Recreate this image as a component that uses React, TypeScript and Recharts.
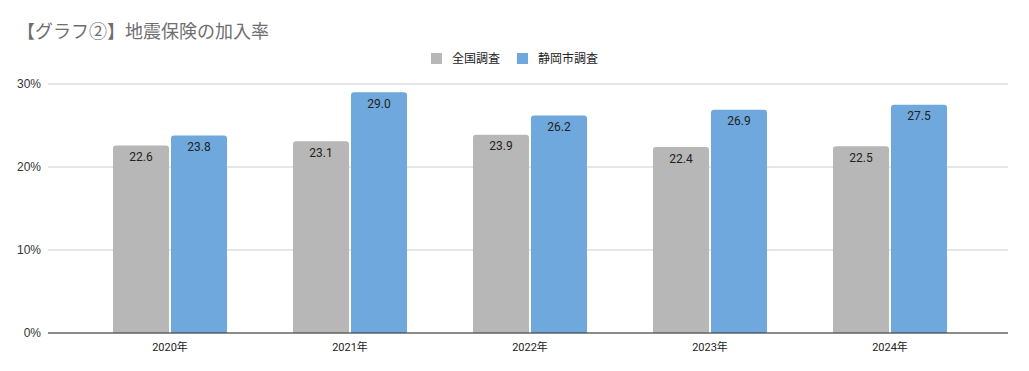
import React from "react";
import { BarChart, Bar, XAxis, YAxis, CartesianGrid, LabelList } from "recharts";

const categories = ["2020年", "2021年", "2022年", "2023年", "2024年"];
const nationalValues = [22.6, 23.1, 23.9, 22.4, 22.5];
const shizuokaValues = [23.8, 29.0, 26.2, 26.9, 27.5];
const yTicks = [0, 10, 20, 30];
const seriesNames = ["全国調査", "静岡市調査"];
const seriesColors = ["#b7b7b7", "#6fa8dc"];

const data = categories.map((c, i) => ({
  name: c,
  national: nationalValues[i],
  shizuoka: shizuokaValues[i],
}));

const font = "Roboto, 'Noto Sans CJK JP', sans-serif";

export default function App() {
  return (
    <div style={{ position: "absolute", left: 0, top: 0, width: 1029, height: 371, background: "#fff", fontFamily: font }}>
      <div style={{ position: "absolute", left: 17, top: 17, fontSize: 18, color: "#6e6e6e", fontFamily: "'Noto Sans CJK JP', sans-serif", lineHeight: "26px" }}>
        【グラフ②】地震保険の加入率
      </div>
      <div style={{ position: "absolute", left: 0, width: 1029, top: 50, display: "flex", justifyContent: "center", fontSize: 12, color: "#222", lineHeight: "16px" }}>
        {seriesNames.map((n, i) => (
          <div key={n} style={{ display: "flex", alignItems: "center", marginLeft: i === 0 ? 0 : 17 }}>
            <span style={{ display: "inline-block", width: 11, height: 11, background: seriesColors[i], marginRight: 10 }} />
            <span style={{ fontFamily: "'Noto Sans CJK JP', sans-serif" }}>{n}</span>
          </div>
        ))}
      </div>
      <div style={{ position: "absolute", left: 0, top: 0 }}>
        <BarChart width={1029} height={371} data={data} margin={{ top: 84, right: 21, bottom: 8, left: 0 }} barGap={2} barSize={56}>
          <CartesianGrid vertical={false} stroke="#cccccc" />
          <XAxis
            dataKey="name"
            padding={{ left: 32, right: 28 }}
            tickLine={false}
            axisLine={{ stroke: "#333333" }}
            tick={{ fontSize: 11, fill: "#222", fontFamily: font }}
            height={30}
            tickMargin={4}
            interval={0}
          />
          <YAxis
            domain={[0, 30]}
            ticks={yTicks}
            tickFormatter={(v: number) => `${v}%`}
            width={48}
            tickLine={false}
            axisLine={false}
            tick={{ fontSize: 12, fill: "#333", fontFamily: "'Liberation Sans', Arial, sans-serif" }}
            tickMargin={1}
          />
          <Bar dataKey="national" fill={seriesColors[0]} radius={[3, 3, 0, 0]} isAnimationActive={false}>
            <LabelList dataKey="national" position="insideTop" offset={7} formatter={(v: number) => v.toFixed(1)} style={{ fontSize: 12, fill: "#222", fontFamily: font }} />
          </Bar>
          <Bar dataKey="shizuoka" fill={seriesColors[1]} radius={[3, 3, 0, 0]} isAnimationActive={false}>
            <LabelList dataKey="shizuoka" position="insideTop" offset={7} formatter={(v: number) => v.toFixed(1)} style={{ fontSize: 12, fill: "#222", fontFamily: font }} />
          </Bar>
        </BarChart>
      </div>
    </div>
  );
}
